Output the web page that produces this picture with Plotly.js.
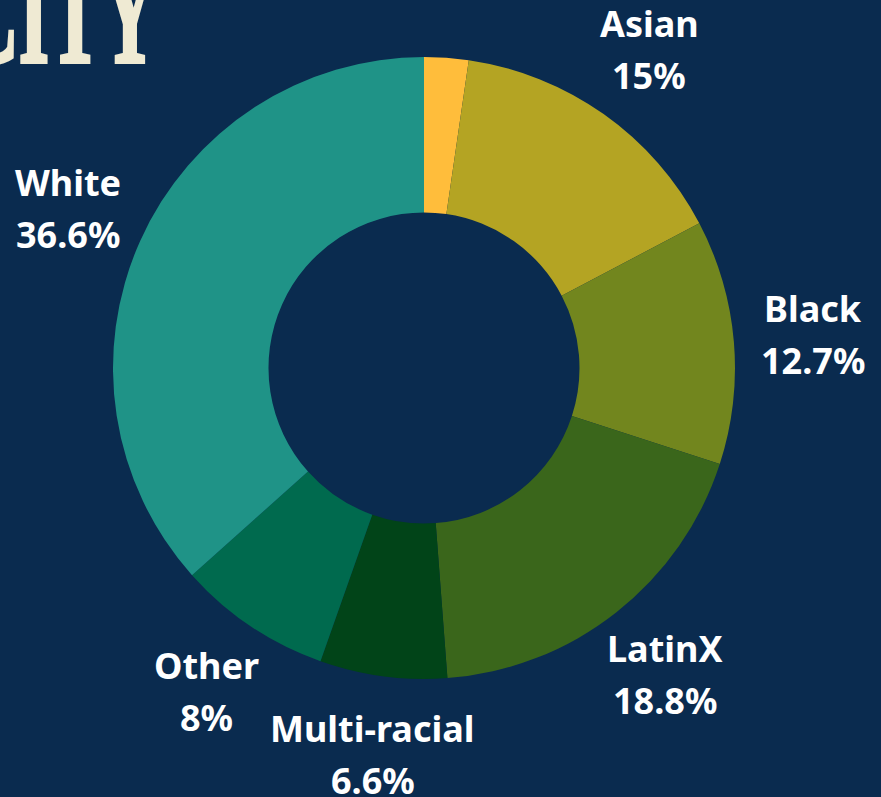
<!DOCTYPE html>
<html>
<head>
<meta charset="utf-8">
<script src="https://cdn.plot.ly/plotly-3.0.1.min.js"></script>
<style>
html,body{margin:0;padding:0;background:#0a2b4f;}
#chart{width:881px;height:797px;}
</style>
</head>
<body>
<div id="chart"></div>
<script>
// Data
var categories = ["", "Asian", "Black", "LatinX", "Multi-racial", "Other", "White"];
var values = [2.3, 15, 12.7, 18.8, 6.6, 8, 36.6];
var percentLabels = ["", "15%", "12.7%", "18.8%", "6.6%", "8%", "36.6%"];
var sliceColors = ["#ffbd3b", "#b4a423", "#72861e", "#3a661b", "#014418", "#006a4e", "#1f9387"];

var W = 881, H = 797;
var cx = 424, cy = 368, r = 311;   // pie center and radius in px
var labelR = 390;

var domainX = [(cx - r) / W, (cx + r) / W];
var domainY = [(H - cy - r) / H, (H - cy + r) / H];

var total = values.reduce(function (a, b) { return a + b; }, 0);
var annotations = [];
var cum = 0;
for (var i = 0; i < values.length; i++) {
  var mid = (cum + values[i] / 2) / total * 2 * Math.PI;
  cum += values[i];
  if (!categories[i]) continue;
  var px = cx + labelR * Math.sin(mid);
  var py = cy - labelR * Math.cos(mid);
  var font = {family: "Noto Sans, Open Sans, sans-serif", size: 36, color: "#ffffff", weight: 700};
  annotations.push({x: px / W, y: 1 - (py - 26) / H, xref: "paper", yref: "paper",
    text: "<b>" + categories[i] + "</b>", showarrow: false, xanchor: "center", yanchor: "middle", font: font});
  annotations.push({x: px / W, y: 1 - (py + 26) / H, xref: "paper", yref: "paper",
    text: "<b>" + percentLabels[i] + "</b>", showarrow: false, xanchor: "center", yanchor: "middle", font: font});
}
// Cropped title
annotations.push({x: 160 / W, y: 1 - 96 / H, xref: "paper", yref: "paper", text: "<b>ETHNICITY</b>",
  showarrow: false, xanchor: "right", yanchor: "bottom",
  font: {family: "Liberation Serif, serif", size: 150, color: "#efead3"}});

var data = [{
  type: "pie",
  labels: categories.map(function (c, i) { return c || "Unlabeled"; }),
  values: values,
  sort: false,
  direction: "clockwise",
  rotation: 0,
  hole: 0.5,
  marker: {colors: sliceColors, line: {width: 0}},
  textinfo: "none",
  hoverinfo: "skip",
  domain: {x: domainX, y: domainY},
  showlegend: false
}];

var layout = {
  width: W, height: H,
  margin: {l: 0, r: 0, t: 0, b: 0},
  paper_bgcolor: "#0a2b4f",
  plot_bgcolor: "#0a2b4f",
  showlegend: false,
  annotations: annotations
};

Plotly.newPlot("chart", data, layout, {displayModeBar: false, staticPlot: true}).then(function (gd) {
  // condense the display title horizontally, keeping its right edge fixed
  var anns = gd.querySelectorAll(".annotation");
  var t = anns[anns.length - 1].querySelector("text");
  var bb = t.getBBox();
  var R = bb.x + bb.width;
  var s = 0.52;
  t.setAttribute("transform", "translate(" + R + ",0) scale(" + s + ",1) translate(" + (-R) + ",0)");
  t.setAttribute("stroke", "#efead3");
  t.setAttribute("stroke-width", "4");
});
</script>
</body>
</html>
